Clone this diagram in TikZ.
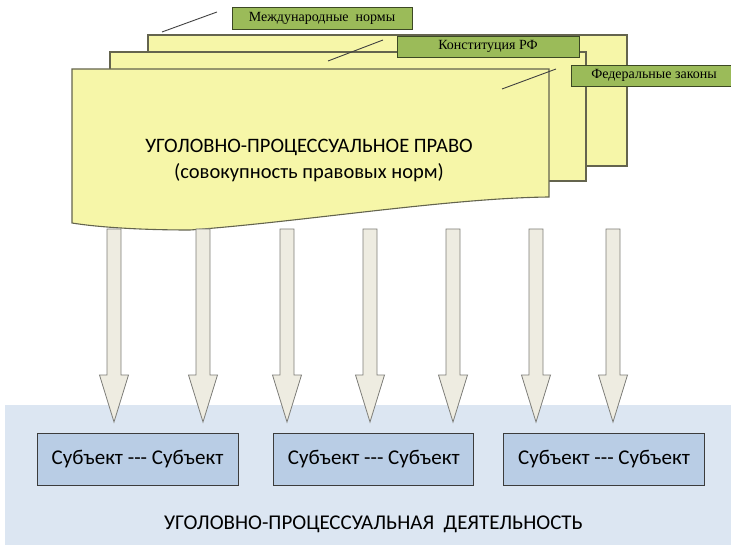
\documentclass[tikz,border=0pt]{standalone}
\usepackage{fontspec}
\setmainfont{Carlito}
\newfontfamily\tabfont{Liberation Serif}
\usetikzlibrary{positioning}
\definecolor{sheetfill}{RGB}{246,246,168}
\definecolor{sheetline}{RGB}{100,100,78}
\definecolor{tabfill}{RGB}{155,187,89}
\definecolor{tabline}{RGB}{60,72,36}
\definecolor{arrowfill}{RGB}{238,236,225}
\definecolor{arrowline}{RGB}{125,125,120}
\definecolor{areafill}{RGB}{220,230,242}
\definecolor{subjfill}{RGB}{185,205,229}
\definecolor{subjline}{RGB}{60,60,60}

\begin{document}
\begin{tikzpicture}[x=1pt,y=-1pt,
  sheet/.style={fill=sheetfill,draw=sheetline,line width=1.1pt},
  tab/.style={fill=tabfill,draw=tabline,line width=0.9pt,inner sep=0pt,
    font=\tabfont\fontsize{14}{16}\selectfont},
  stroke/.style={draw=black!75,line width=0.9pt},
  blockarrow/.style={fill=arrowfill,draw=arrowline,line width=0.8pt},
  subj/.style={fill=subjfill,draw=subjline,line width=0.8pt,
    minimum height=52pt,inner sep=0pt,font=\fontsize{21}{25}\selectfont}]
\useasboundingbox (0,0) rectangle (731,545);
% stack of sheets
\draw[sheet] (148,35) rectangle (627,166);
\node[tab,minimum width=180pt,minimum height=22pt] (intl) at (322,18) {Международные\ \ нормы};
\draw[stroke] (162,32) -- (217,12);
\draw[sheet] (110,52) rectangle (586,181);
\node[tab,minimum width=182pt,minimum height=21pt] (const) at (488,46.5) {Конституция РФ};
\draw[stroke] (328,61) -- (383,40);
\draw[sheet] (72,69) -- (549,69) -- (549,197)
  .. controls (450,198) and (300,222) .. (190,230)
  .. controls (130,230) and (90,226) .. (72,223) -- cycle;
\node[tab,minimum width=166pt,minimum height=21pt] (fed) at (654,75.5) {Федеральные законы};
\draw[stroke] (502,89) -- (556,69);
\node[align=center,font=\fontsize{20.5}{26}\selectfont] (law) at (309,161)
  {УГОЛОВНО-ПРОЦЕССУАЛЬНОЕ ПРАВО\\(совокупность правовых норм)};
% activity area
\fill[areafill] (5,405) rectangle (731,545);
\foreach \x in {114,203,287,370,453,536,613}
  \draw[blockarrow] ({\x-7},229) -- ({\x+7},229) -- ({\x+7},375) -- ({\x+14.5},375)
    -- (\x,422) -- ({\x-14.5},375) -- ({\x-7},375) -- cycle;
\node[subj,minimum width=201pt] (s1) at (137.5,459) {Субъект -{}-{}- Субъект};
\node[subj,minimum width=200pt,right=35pt of s1] (s2) {Субъект -{}-{}- Субъект};
\node[subj,minimum width=201pt,right=29pt of s2] (s3) {Субъект -{}-{}- Субъект};
\node[font=\fontsize{21}{25}\selectfont] (act) at (373.5,524) {УГОЛОВНО-ПРОЦЕССУАЛЬНАЯ\ \ ДЕЯТЕЛЬНОСТЬ};
\end{tikzpicture}
\end{document}
